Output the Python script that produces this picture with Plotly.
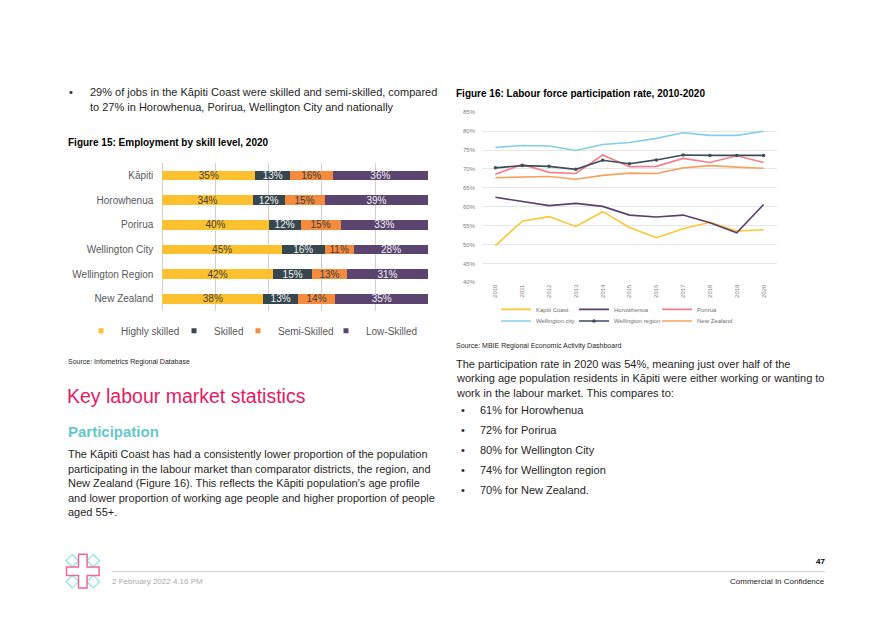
import plotly.graph_objects as go

# page is rendered with an 8px body margin; figure fills the rest of the window
OFF = 8
W, H = 893 - OFF, 626 - OFF

# ---------------- Figure 15: Employment by skill level, 2020 ----------------
skill_categories = ["Kāpiti", "Horowhenua", "Porirua", "Wellington City",
                    "Wellington Region", "New Zealand"]
highly_skilled = [35, 34, 40, 45, 42, 38]
skilled = [13, 12, 12, 16, 15, 13]
semi_skilled = [16, 15, 15, 11, 13, 14]
low_skilled = [36, 39, 33, 28, 31, 35]
skill_names = ["Highly skilled", "Skilled", "Semi-Skilled", "Low-Skilled"]

# ---------------- Figure 16: Labour force participation rate ----------------
years = ["2010", "2011", "2012", "2013", "2014", "2015", "2016", "2017", "2018", "2019", "2020"]
kapiti_coast = [49.7, 56.2, 57.4, 54.8, 58.7, 54.5, 51.8, 54.2, 55.9, 53.6, 53.9]
horowhenua = [62.5, 61.3, 60.3, 60.9, 60.1, 57.8, 57.3, 57.8, 55.8, 53.1, 60.6]
porirua = [68.6, 71.2, 69.1, 68.8, 73.7, 70.6, 70.7, 72.8, 71.7, 73.5, 71.7]
wellington_city = [75.7, 76.2, 76.1, 74.9, 76.5, 77.0, 78.1, 79.6, 78.9, 78.9, 80.0]
wellington_region = [70.3, 70.9, 70.7, 69.9, 72.3, 71.4, 72.4, 73.7, 73.6, 73.6, 73.6]
new_zealand = [67.7, 67.8, 68.0, 67.3, 68.3, 68.9, 68.8, 70.3, 70.9, 70.5, 70.2]
pct_ticks = [40, 45, 50, 55, 60, 65, 70, 75, 80, 85]

FONT = "Liberation Sans, Arial, sans-serif"


def px(x):
    return (x - OFF) / W


def py(y):
    return 1 - (y - OFF) / H


fig = go.Figure()

bar_colors = ["#FDC02F", "#37474F", "#F58B3C", "#5B4470"]
bar_text_colors = ["#404040", "#F2F2F2", "#404040", "#F2F2F2"]
series = [highly_skilled, skilled, semi_skilled, low_skilled]
for name, vals, col, tcol in zip(skill_names, series, bar_colors, bar_text_colors):
    fig.add_trace(go.Bar(
        y=skill_categories, x=vals, orientation="h", name=name,
        marker=dict(color=col, line=dict(width=0)),
        text=[f"{v}%" for v in vals], textposition="inside",
        insidetextanchor="middle", textangle=0, constraintext="none",
        textfont=dict(size=10, color=tcol, family=FONT),
        xaxis="x", yaxis="y", showlegend=False, hoverinfo="skip",
    ))

# legend entries for the bar chart (small square keys)
bar_leg_text_x = [121, 214, 278, 366]
for i, (name, col) in enumerate(zip(skill_names, bar_colors)):
    fig.add_trace(go.Scatter(
        x=[None], y=[None], mode="markers", name=name,
        marker=dict(symbol="square", size=5, color=col),
        xaxis="x", yaxis="y", legend="legend" if i == 0 else f"legend{i + 1}",
    ))

line_specs = [
    ("Kapiti Coast", kapiti_coast, "#FCC632", False),
    ("Horowhenua", horowhenua, "#5C3F6E", False),
    ("Porirua", porirua, "#F47E8A", False),
    ("Wellington city", wellington_city, "#86CCEB", False),
    ("Wellington region", wellington_region, "#3D4D58", True),
    ("New Zealand", new_zealand, "#F7A260", False),
]
for i, (name, vals, col, mk) in enumerate(line_specs):
    fig.add_trace(go.Scatter(
        x=years, y=vals, name=name, mode="lines+markers" if mk else "lines",
        line=dict(color=col, width=1.6),
        marker=dict(size=3.5, color=col),
        xaxis="x2", yaxis="y2", legend=f"legend{i + 5}", hoverinfo="skip",
    ))

layout = dict(
    width=W, height=H, margin=dict(l=0, r=0, t=0, b=0),
    paper_bgcolor="white", plot_bgcolor="white",
    font=dict(family=FONT, color="#262626"),
    barmode="stack", barnorm="percent", bargap=0.61,
    xaxis=dict(domain=[px(162.3), px(428.3)], range=[0, 100], dtick=20,
               showticklabels=False, showgrid=True, gridcolor="#D0D0D0",
               zeroline=True, zerolinecolor="#D0D0D0", zerolinewidth=1,
               fixedrange=True, anchor="y"),
    yaxis=dict(domain=[py(311), py(161.8)], type="category",
               categoryorder="array", categoryarray=skill_categories,
               range=[5.5, -0.5], ticks="", ticklabelstandoff=8,
               tickfont=dict(size=10, color="#595959"), showgrid=False,
               fixedrange=True, anchor="x"),
    xaxis2=dict(domain=[px(482), px(777)], type="category", range=[-0.5, 10.5],
                tickangle=-90, tickfont=dict(size=6, color="#808080"),
                showgrid=False, zeroline=False, ticks="", anchor="y2",
                fixedrange=True),
    yaxis2=dict(domain=[py(282), py(110.3)], range=[40, 85],
                tickvals=pct_ticks, ticktext=[f"{v}%" for v in pct_ticks],
                tickfont=dict(size=6, color="#808080"), gridcolor="#E6E6E6",
                ticklabelstandoff=6,
                zeroline=False, ticks="", anchor="x2", fixedrange=True),
)

for i, tx in enumerate(bar_leg_text_x):
    key = "legend" if i == 0 else f"legend{i + 1}"
    layout[key] = dict(x=px(tx - 40), y=py(331), xanchor="left", yanchor="middle",
                       orientation="h", bgcolor="rgba(0,0,0,0)", borderwidth=0,
                       font=dict(size=10, color="#595959"), itemclick=False,
                       itemdoubleclick=False)

line_leg_pos = [(536, 309.3), (614, 309.3), (697, 309.3),
                (536, 321), (614, 321), (697, 321)]
for i, (tx, ty) in enumerate(line_leg_pos):
    layout[f"legend{i + 5}"] = dict(x=px(tx - 40), y=py(ty), xanchor="left",
                                    yanchor="middle", orientation="h",
                                    bgcolor="rgba(0,0,0,0)", borderwidth=0,
                                    font=dict(size=6, color="#707070"),
                                    itemclick=False, itemdoubleclick=False)

fig.update_layout(**layout)


def note(text, x, y, size=11, color="#262626", anchor="left"):
    fig.add_annotation(text=text, x=px(x), y=py(y), xref="paper", yref="paper",
                       xanchor=anchor, yanchor="middle", showarrow=False,
                       font=dict(size=size, color=color, family=FONT))


# Left column text
note("•", 67, 90)
note("29% of jobs in the Kāpiti Coast were skilled and semi-skilled, compared", 88, 90)
note("to 27% in Horowhenua, Porirua, Wellington City and nationally", 88, 105)
note("<b>Figure 15: Employment by skill level, 2020</b>", 66, 141, size=10, color="#000000")
note("Source: Infometrics Regional Database", 66, 362, size=7)
note("Key labour market statistics", 65, 397, size=19.5, color="#E8195F")
note("<b>Participation</b>", 66, 433, size=15, color="#64C8CC")
para = [
    "The Kāpiti Coast has had a consistently lower proportion of the population",
    "participating in the labour market than comparator districts, the region, and",
    "New Zealand (Figure 16). This reflects the Kāpiti population’s age profile",
    "and lower proportion of working age people and higher proportion of people",
    "aged 55+.",
]
for i, line in enumerate(para):
    note(line, 66, 455.5 + i * 14.6)

# Right column text
note("<b>Figure 16: Labour force participation rate, 2010-2020</b>", 454, 91, size=10, color="#000000")
note("Source: MBIE Regional Economic Activity Dashboard", 454, 346, size=7)
para2 = [
    "The participation rate in 2020 was 54%, meaning just over half of the",
    "working age population residents in Kāpiti were either working or wanting to",
    "work in the labour market. This compares to:",
]
for i, line in enumerate(para2):
    note(line, 454, 364 + i * 15)
bullets = ["61% for Horowhenua", "72% for Porirua", "80% for Wellington City",
           "74% for Wellington region", "70% for New Zealand."]
for i, b in enumerate(bullets):
    note("•", 459, 411 + i * 20.2)
    note(b, 478, 411 + i * 20.2)

# Footer
note("<b>47</b>", 827, 564, size=8, color="#000000", anchor="right")
note("2 February 2022 4.16 PM", 110, 584, size=8, color="#AAAAAA")
note("Commercial In Confidence", 827, 584, size=8, color="#222222", anchor="right")
fig.add_shape(type="line", xref="paper", yref="paper", x0=px(112), x1=px(825),
              y0=py(574), y1=py(574), line=dict(color="#D0D0D0", width=1))

# Logo (decorative)
cx, cy = 82.8, 573.7
a, L, Lv = 4.3, 16.3, 17.0
pts = [(cx - a, cy - Lv), (cx + a, cy - Lv), (cx + a, cy - a), (cx + L, cy - a),
       (cx + L, cy + a), (cx + a, cy + a), (cx + a, cy + Lv), (cx - a, cy + Lv),
       (cx - a, cy + a), (cx - L, cy + a), (cx - L, cy - a), (cx - a, cy - a)]
for dx, dy in [(-10.5, -10.5), (10.5, -10.5), (-10.5, 10.5), (10.5, 10.5)]:
    ex, ey, r = cx + dx, cy + dy, 6.3
    d = (f"M{px(ex)},{py(ey - r)} L{px(ex + r)},{py(ey)} "
         f"L{px(ex)},{py(ey + r)} L{px(ex - r)},{py(ey)} Z")
    fig.add_shape(type="path", path=d, xref="paper", yref="paper",
                  line=dict(color="#8FE6EA", width=1.3))
path = "M" + " L".join(f"{px(x)},{py(y)}" for x, y in pts) + " Z"
fig.add_shape(type="path", path=path, xref="paper", yref="paper",
              line=dict(color="#F0679A", width=1.5))

fig.write_html("out.html")
